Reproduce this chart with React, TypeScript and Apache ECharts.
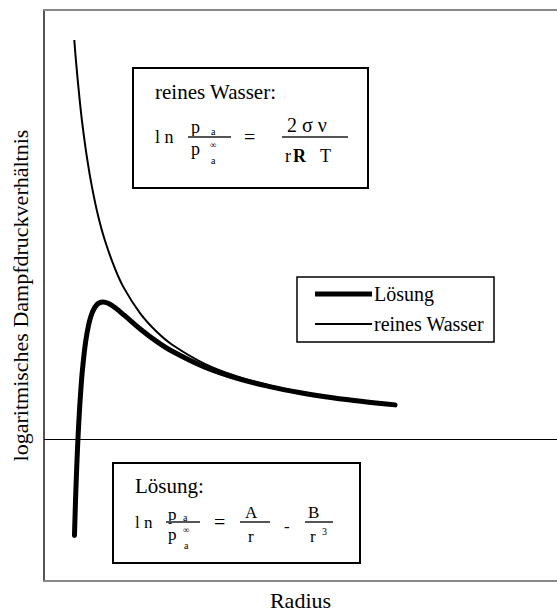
import React, { useEffect, useRef } from "react";
import * as echarts from "echarts";

// Radius values (arbitrary units) and log vapour-pressure ratios
const radiusWasser = [0.945, 1.0, 1.1, 1.2, 1.35, 1.5, 1.7, 1.9, 2.2, 2.5, 3.0, 3.5, 4.0, 5.0, 6.0, 7.0, 8.0, 9.0, 10.0, 10.95];
const lnWasser = [4.0, 3.78, 3.44, 3.15, 2.8, 2.52, 2.22, 1.99, 1.72, 1.51, 1.26, 1.08, 0.945, 0.756, 0.63, 0.54, 0.473, 0.42, 0.378, 0.345];

const radiusLoesung = [0.95, 0.98, 1.0, 1.03, 1.06, 1.1, 1.15, 1.2, 1.3, 1.4, 1.5, 1.65, 1.84, 2.0, 2.2, 2.5, 3.0, 3.5, 4.0, 5.0, 6.0, 7.0, 8.0, 9.0, 10.0, 10.95];
const lnLoesung = [-0.967, -0.648, -0.46, -0.21, 0.006, 0.25, 0.499, 0.696, 0.978, 1.155, 1.264, 1.347, 1.373, 1.36, 1.32, 1.241, 1.103, 0.981, 0.879, 0.722, 0.61, 0.528, 0.464, 0.414, 0.374, 0.342];

const seriesNames = ["Lösung", "reines Wasser"];
const xTitle = "Radius";
const yTitle = "logaritmisches Dampfdruckverhältnis";

const SERIF = "Times New Roman, Liberation Serif, serif";

const txt = (text: string, x: number, y: number, size: number, bold = false) => ({
  type: "text",
  x,
  y,
  style: {
    text,
    fontFamily: SERIF,
    fontSize: size,
    fontWeight: bold ? "bold" : "normal",
    fill: "#000",
    align: "left",
    verticalAlign: "middle",
  },
});

const bar = (x1: number, x2: number, y: number) => ({
  type: "line",
  shape: { x1, y1: y, x2, y2: y },
  style: { stroke: "#555", lineWidth: 2 },
});

const box = (x: number, y: number, width: number, height: number) => ({
  type: "rect",
  shape: { x, y, width, height },
  style: { fill: "#fff", stroke: "#000", lineWidth: 2 },
});

export default function App() {
  const ref = useRef<HTMLDivElement>(null);

  useEffect(() => {
    if (!ref.current) return;
    const chart = echarts.init(ref.current, undefined, { renderer: "svg" });

    const frameLine = { show: true, onZero: false, lineStyle: { color: "#888", width: 2 } };

    chart.setOption({
      animation: false,
      textStyle: { fontFamily: SERIF },
      grid: { left: 44, top: 10, right: 0, bottom: 31, show: false, outerBoundsMode: "none", containLabel: false },
      xAxis: [
        {
          type: "value",
          min: 0,
          max: 16,
          position: "bottom",
          axisLine: frameLine,
          axisTick: { show: false },
          axisLabel: { show: false },
          splitLine: { show: false },
          name: xTitle,
          nameLocation: "middle",
          nameGap: 8,
          nameTextStyle: { fontFamily: SERIF, fontSize: 22, color: "#000" },
        },
        {
          type: "value",
          min: 0,
          max: 16,
          position: "top",
          axisLine: frameLine,
          axisTick: { show: false },
          axisLabel: { show: false },
          splitLine: { show: false },
        },
      ],
      yAxis: {
        type: "value",
        min: -1.4236,
        max: 4.3008,
        axisLine: { show: true, onZero: false, lineStyle: { color: "#555", width: 2 } },
        axisTick: { show: false },
        axisLabel: { show: false },
        splitLine: { show: false },
        name: yTitle,
        nameLocation: "middle",
        nameGap: 13,
        nameRotate: 90,
        nameTextStyle: { fontFamily: SERIF, fontSize: 22, color: "#000" },
      },
      legend: {
        data: [
          { name: seriesNames[0], icon: "path://M0,0 H57 V5 H0 Z" },
          { name: seriesNames[1], icon: "path://M0,0 H57 V2 H0 Z" },
        ],
        orient: "vertical",
        left: 297,
        top: 277,
        padding: [7, 10, 8, 18],
        itemGap: 10,
        itemWidth: 57,
        itemHeight: 20,
        symbolKeepAspect: true,
        backgroundColor: "#fff",
        borderColor: "#000",
        borderWidth: 1.5,
        borderRadius: 0,
        itemStyle: { color: "#000", borderWidth: 0 },
        textStyle: { fontFamily: SERIF, fontSize: 20, color: "#000", padding: [0, 0, 0, -3] },
      },
      series: [
        {
          name: seriesNames[1],
          type: "line",
          data: radiusWasser.map((r, i) => [r, lnWasser[i]]),
          smooth: 0.4,
          symbol: "none",
          lineStyle: { color: "#000", width: 2 },
          itemStyle: { color: "#000" },
          markLine: {
            silent: true,
            symbol: "none",
            label: { show: false },
            lineStyle: { color: "#000", width: 1, type: "solid" },
            data: [{ yAxis: 0 }],
          },
          z: 2,
        },
        {
          name: seriesNames[0],
          type: "line",
          data: radiusLoesung.map((r, i) => [r, lnLoesung[i]]),
          smooth: 0.4,
          symbol: "none",
          lineStyle: { color: "#000", width: 5, cap: "round" },
          itemStyle: { color: "#000" },
          z: 3,
        },
      ],
      graphic: [
        // pure water: Kelvin equation
        box(133, 68, 235, 120),
        txt("reines Wasser:", 155, 92, 21),
        txt("l n", 155, 137, 18),
        txt("p", 191, 127, 18),
        txt("a", 211, 131, 10),
        bar(188, 231, 137),
        txt("p", 191, 149, 18),
        txt("∞", 210, 145, 9),
        txt("a", 211, 160, 10),
        txt("=", 244, 137, 20),
        txt("2 σ ν", 287, 125, 20),
        bar(282, 348, 137),
        txt("r", 285, 156, 18),
        txt("R", 293, 156, 18, true),
        txt("T", 320, 156, 18),

        // solution: Köhler equation
        box(113, 463, 247, 100),
        txt("Lösung:", 135, 486, 21),
        txt("l n", 135, 522, 17),
        txt("p", 168, 514, 17),
        txt("a", 183, 517, 10),
        bar(166, 200, 522),
        txt("p", 168, 534, 17),
        txt("∞", 183, 530, 9),
        txt("a", 184, 545, 10),
        txt("=", 214, 522, 20),
        txt("A", 245, 512, 17),
        bar(240, 270, 522),
        txt("r", 248, 536, 17),
        txt("-", 284, 526, 17),
        txt("B", 308, 512, 17),
        bar(305, 333, 522),
        txt("r", 310, 536, 17),
        txt("3", 322, 531, 10),
      ],
    });

    return () => chart.dispose();
  }, []);

  return (
    <div
      ref={ref}
      style={{ position: "absolute", left: 0, top: 0, width: 557, height: 612, background: "#fff" }}
    />
  );
}
